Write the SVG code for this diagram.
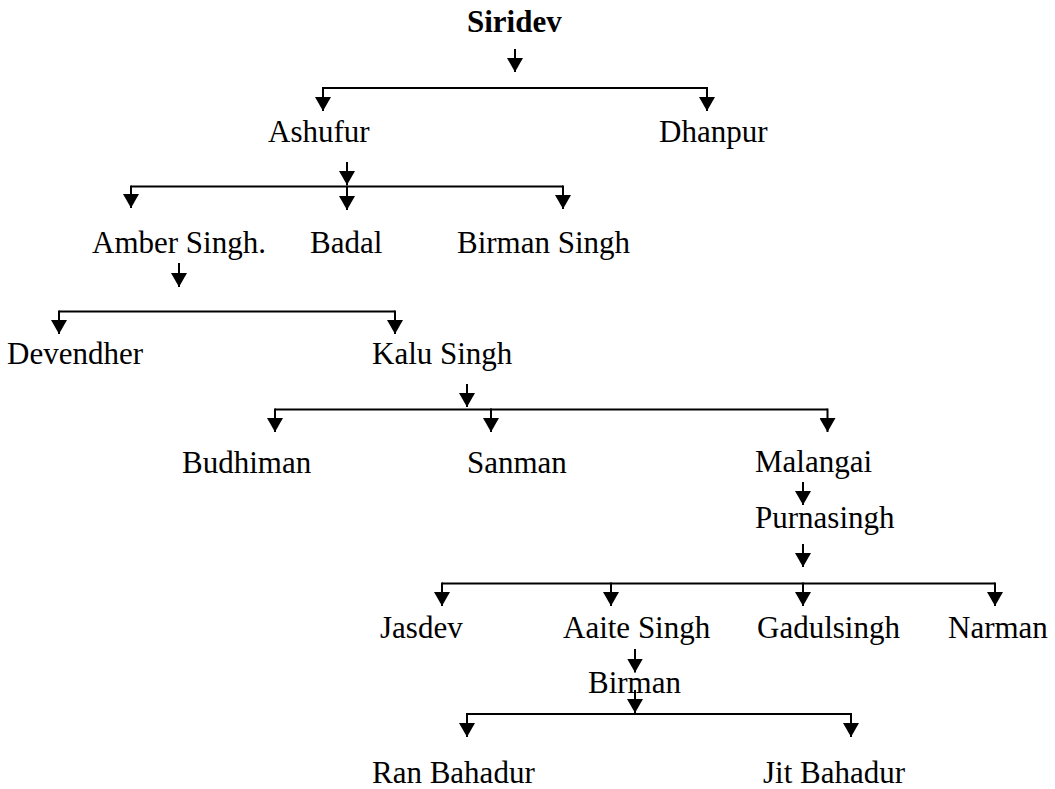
<svg xmlns="http://www.w3.org/2000/svg" width="1055" height="789" viewBox="0 0 1055 789">
<style>
.t{font-family:"Liberation Serif","Times New Roman",serif;font-size:31px;fill:#000}
.b{font-weight:bold}
.c{stroke:#000;stroke-width:2;fill:none}
.a{stroke:#000;stroke-width:2;fill:none;marker-end:url(#ah)}
</style>
<defs>
<marker id="ah" viewBox="0 0 14 16" refX="14" refY="8" markerWidth="14" markerHeight="16" markerUnits="userSpaceOnUse" orient="auto">
<path d="M0,0 L14,8 L0,16 z" fill="#000"/>
</marker>
</defs>
<rect width="1055" height="789" fill="#fff"/>
<g id="connectors">
<path class="a" d="M515,49 V72"/>
<path class="c" d="M323,88 H707"/>
<path class="a" d="M323,87 V111"/>
<path class="a" d="M707,87 V111"/>
<path class="a" d="M347,162 V185"/>
<path class="c" d="M131,186.5 H563"/>
<path class="a" d="M131,185.5 V208"/>
<path class="a" d="M347,185.5 V210"/>
<path class="a" d="M563,185.5 V209"/>
<path class="a" d="M179,263 V287"/>
<path class="c" d="M59,311.5 H395"/>
<path class="a" d="M59,310.5 V334"/>
<path class="a" d="M395,310.5 V334"/>
<path class="a" d="M467,384 V407"/>
<path class="c" d="M275,409.5 H827.5"/>
<path class="a" d="M275,408.5 V432"/>
<path class="a" d="M491,408.5 V432"/>
<path class="a" d="M827.5,408.5 V432"/>
<path class="a" d="M803,482 V505"/>
<path class="a" d="M803,544 V567"/>
<path class="c" d="M442,583.5 H995"/>
<path class="a" d="M442,582.5 V606"/>
<path class="a" d="M611,582.5 V606"/>
<path class="a" d="M803,582.5 V606"/>
<path class="a" d="M995,582.5 V606"/>
<path class="a" d="M635,649 V672.5"/>
<path class="a" d="M635,690 V713"/>
<path class="c" d="M467,714 H851"/>
<path class="a" d="M467,713 V737"/>
<path class="a" d="M851,713 V737"/>
</g>
<g id="n-siridev"><text class="t b" x="467" y="32">Siridev</text></g>
<g id="n-ashufur"><text class="t" x="268" y="142">Ashufur</text></g>
<g id="n-dhanpur"><text class="t" x="659" y="142">Dhanpur</text></g>
<g id="n-amber"><text class="t" x="92" y="253">Amber Singh.</text></g>
<g id="n-badal"><text class="t" x="310" y="253">Badal</text></g>
<g id="n-birmansingh"><text class="t" x="457" y="253">Birman Singh</text></g>
<g id="n-devendher"><text class="t" x="7" y="364">Devendher</text></g>
<g id="n-kalu"><text class="t" x="372" y="364">Kalu Singh</text></g>
<g id="n-budhiman"><text class="t" x="182" y="473">Budhiman</text></g>
<g id="n-sanman"><text class="t" x="467" y="473">Sanman</text></g>
<g id="n-malangai"><text class="t" x="755" y="472">Malangai</text></g>
<g id="n-purnasingh"><text class="t" x="755" y="528">Purnasingh</text></g>
<g id="n-jasdev"><text class="t" x="380" y="638">Jasdev</text></g>
<g id="n-aaite"><text class="t" x="563" y="638">Aaite Singh</text></g>
<g id="n-gadulsingh"><text class="t" x="757" y="638">Gadulsingh</text></g>
<g id="n-narman"><text class="t" x="948" y="638">Narman</text></g>
<g id="n-birman"><text class="t" x="588" y="693">Birman</text></g>
<g id="n-ranbahadur"><text class="t" x="372" y="783">Ran Bahadur</text></g>
<g id="n-jitbahadur"><text class="t" x="763" y="783">Jit Bahadur</text></g>
</svg>
